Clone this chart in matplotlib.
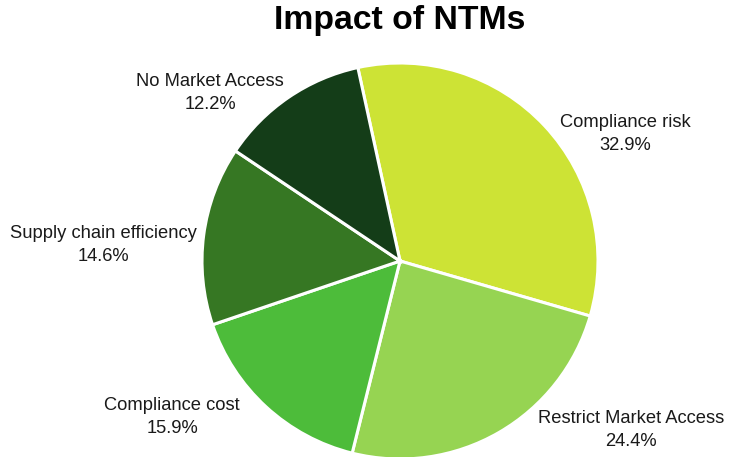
import matplotlib
matplotlib.use("Agg")
import matplotlib.pyplot as plt

categories = ["Compliance risk", "Restrict Market Access", "Compliance cost",
              "Supply chain efficiency", "No Market Access"]
values = [32.9, 24.4, 15.9, 14.6, 12.2]
colors = ["#CDE335", "#96D452", "#4DBC3A", "#367723", "#143D18"]
# label block centres in pixel coords (x, y from top)
label_pos = [(625, 134), (631, 430), (172, 417), (103, 245), (210, 93)]

W, H = 731, 457
fig = plt.figure(figsize=(W / 100, H / 100), dpi=100)
ax = fig.add_axes([0, 0, 1, 1])

cx, cy, R = 400, H - 261, 198
ax.pie(values, colors=colors, startangle=102.3, counterclock=False,
       radius=R, center=(cx, cy), frame=True,
       wedgeprops=dict(edgecolor="white", linewidth=2.2))
ax.set_xlim(0, W)
ax.set_ylim(0, H)
ax.set_aspect("equal")
ax.axis("off")

font = "Liberation Sans"
for name, v, (lx, ly) in zip(categories, values, label_pos):
    ax.text(lx, H - ly, f"{name}\n{v:.1f}%", ha="center", va="center",
            fontsize=13.2, family=font, color="#1a1a1a", linespacing=1.45)

fig.text(400 / W, 1 - 21 / H, "Impact of NTMs", ha="center", va="center",
         fontsize=24.3, fontweight="bold", family=font, color="black")

fig.savefig("out.png", dpi=100)
